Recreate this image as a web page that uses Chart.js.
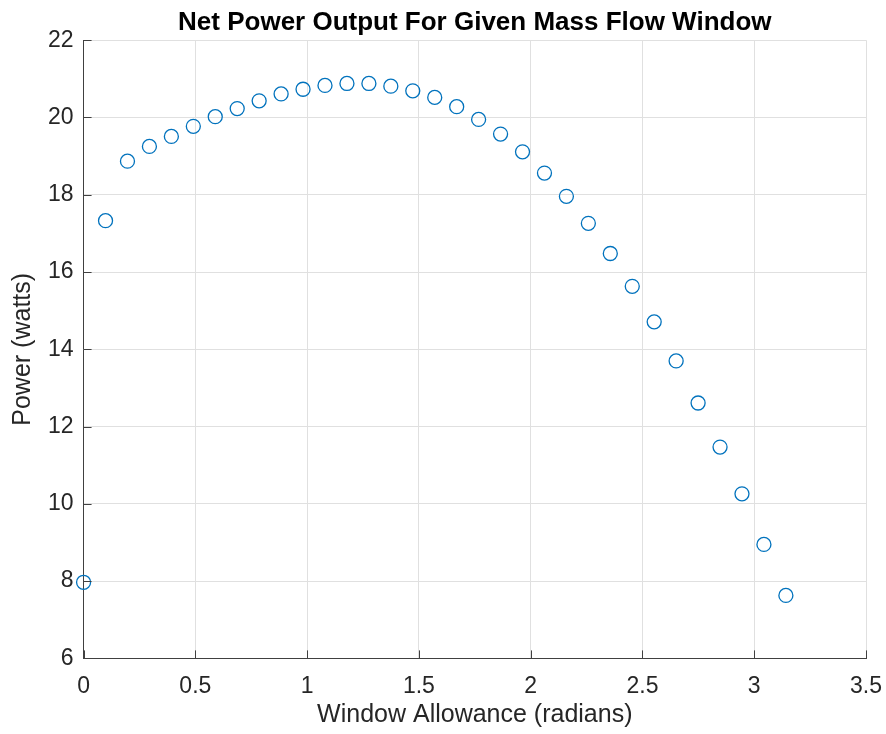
<!DOCTYPE html>
<html>
<head>
<meta charset="utf-8">
<script src="https://cdn.jsdelivr.net/npm/chart.js@4/dist/chart.umd.min.js"></script>
<style>
    body { margin: 0; background: #fff; }
</style>
</head>
<body>
<canvas id="powerCanvas" width="886" height="734"></canvas>
<script>
    // data
    var windowAllowance = [0, 0.0982, 0.1963, 0.2945, 0.3927, 0.4909, 0.5890, 0.6872, 0.7854, 0.8836,
        0.9817, 1.0799, 1.1781, 1.2763, 1.3744, 1.4726, 1.5708, 1.6690, 1.7671, 1.8653, 1.9635,
        2.0617, 2.1598, 2.2580, 2.3562, 2.4544, 2.5525, 2.6507, 2.7489, 2.8471, 2.9452, 3.0434, 3.1416
    ];
    var netPower = [7.97, 17.33, 18.87, 19.25, 19.51, 19.77, 20.02, 20.23, 20.43, 20.61,
        20.73, 20.83, 20.88, 20.88, 20.81, 20.69, 20.52, 20.28, 19.95, 19.57, 19.11,
        18.56, 17.96, 17.26, 16.48, 15.63, 14.71, 13.70, 12.61, 11.47, 10.26, 8.95, 7.63
    ];
    var xTicks = [0, 3.5, 0.5];   // min, max, step
    var yTicks = [6, 22, 2];

    var fontFamily = "'Liberation Sans', Arial, Helvetica, sans-serif";
    var axisColor = '#404040';
    var textColor = '#262626';
    var gridColor = '#e0e0e0';

    // MATLAB style inward tick marks
    var innerTicks = {
        id: 'innerTicks',
        afterDraw: function (chart) {
            var ctx = chart.ctx;
            var area = chart.chartArea;
            var x = chart.scales.x;
            var y = chart.scales.y;
            ctx.save();
            ctx.strokeStyle = axisColor;
            ctx.lineWidth = 1;
            ctx.beginPath();
            x.ticks.forEach(function (t) {
                var px = Math.round(x.getPixelForValue(t.value)) + 0.5;
                ctx.moveTo(px, area.bottom);
                ctx.lineTo(px, area.bottom - 8);
            });
            y.ticks.forEach(function (t) {
                var py = Math.round(y.getPixelForValue(t.value)) + 0.5;
                ctx.moveTo(area.left, py);
                ctx.lineTo(area.left + 8, py);
            });
            ctx.stroke();
            ctx.restore();
        }
    };

    var points = windowAllowance.map(function (v, i) {
        return { x: v, y: netPower[i] };
    });

    var ctx = document.getElementById('powerCanvas').getContext('2d');
    window.myScatter = new Chart(ctx, {
        type: 'scatter',
        data: {
            datasets: [{
                label: 'Net Power',
                data: points,
                pointStyle: 'circle',
                pointRadius: 7,
                pointHoverRadius: 7,
                borderColor: '#0072BD',
                backgroundColor: 'rgba(0,0,0,0)',
                borderWidth: 1.3,
                clip: false
            }]
        },
        options: {
            responsive: false,
            animation: false,
            layout: {
                padding: { left: 0, right: 20, top: 0, bottom: 0 }
            },
            plugins: {
                legend: { display: false },
                tooltip: { enabled: false },
                title: {
                    display: true,
                    text: 'Net Power Output For Given Mass Flow Window',
                    color: '#000',
                    fullSize: false,
                    font: { family: fontFamily, size: 26, weight: 'bold' },
                    padding: { top: 7, bottom: 2 }
                }
            },
            scales: {
                x: {
                    type: 'linear',
                    min: xTicks[0],
                    max: xTicks[1],
                    ticks: {
                        stepSize: xTicks[2],
                        color: textColor,
                        padding: 0,
                        maxRotation: 0,
                        font: { family: fontFamily, size: 23 },
                        callback: function (value) {
                            return String(Math.round(value * 10) / 10);
                        }
                    },
                    // invisible tick marks used as spacing between axis and labels
                    grid: { color: gridColor, drawTicks: true, tickLength: 14, tickColor: 'rgba(0,0,0,0)' },
                    border: { color: axisColor, width: 1 },
                    title: {
                        display: true,
                        text: 'Window Allowance (radians)',
                        color: textColor,
                        font: { family: fontFamily, size: 25 },
                        padding: { top: 0, bottom: 4 }
                    }
                },
                y: {
                    type: 'linear',
                    min: yTicks[0],
                    max: yTicks[1],
                    ticks: {
                        stepSize: yTicks[2],
                        color: textColor,
                        padding: 10,
                        font: { family: fontFamily, size: 23 }
                    },
                    grid: { color: gridColor, drawTicks: false },
                    border: { color: axisColor, width: 1 },
                    title: {
                        display: true,
                        text: 'Power (watts)',
                        color: textColor,
                        font: { family: fontFamily, size: 25 },
                        padding: { top: 8, bottom: 0 }
                    }
                }
            }
        },
        plugins: [innerTicks]
    });
</script>
</body>
</html>
